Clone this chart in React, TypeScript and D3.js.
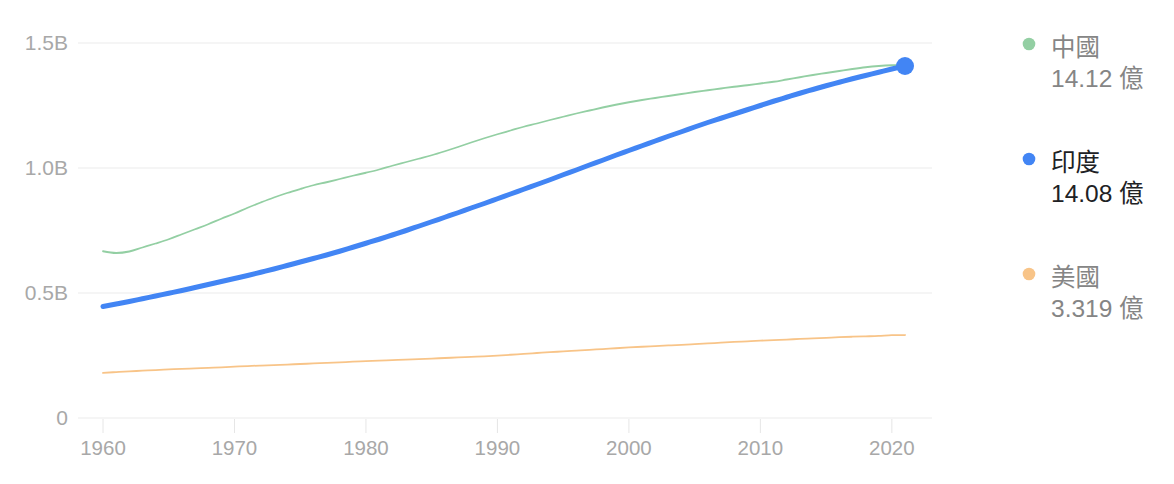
import React from "react";
import * as d3 from "d3";

const years: number[] = d3.range(1960, 2022);

const china: number[] = [
  0.667, 0.660, 0.666, 0.682, 0.698, 0.715, 0.735, 0.755, 0.775, 0.797,
  0.818, 0.841, 0.862, 0.882, 0.900, 0.916, 0.931, 0.943, 0.956, 0.969,
  0.981, 0.994, 1.009, 1.023, 1.037, 1.051, 1.067, 1.084, 1.102, 1.119,
  1.135, 1.150, 1.165, 1.178, 1.192, 1.205, 1.218, 1.230, 1.242, 1.253,
  1.263, 1.272, 1.280, 1.288, 1.296, 1.304, 1.311, 1.318, 1.325, 1.331,
  1.338, 1.345, 1.354, 1.363, 1.372, 1.380, 1.388, 1.396, 1.403, 1.408,
  1.411, 1.412,
];

const india: number[] = [
  0.446, 0.456, 0.466, 0.477, 0.488, 0.499, 0.510, 0.522, 0.534, 0.546,
  0.558, 0.570, 0.583, 0.596, 0.610, 0.624, 0.638, 0.652, 0.667, 0.683,
  0.699, 0.715, 0.732, 0.749, 0.767, 0.785, 0.803, 0.821, 0.840, 0.858,
  0.877, 0.896, 0.915, 0.934, 0.953, 0.973, 0.992, 1.012, 1.031, 1.051,
  1.070, 1.089, 1.108, 1.127, 1.145, 1.164, 1.182, 1.199, 1.216, 1.233,
  1.250, 1.267, 1.283, 1.299, 1.314, 1.329, 1.343, 1.357, 1.370, 1.383,
  1.396, 1.408,
];

const usa: number[] = [
  0.1807, 0.1837, 0.1865, 0.1892, 0.1919, 0.1943, 0.1966, 0.1987, 0.2007, 0.2027,
  0.2052, 0.2079, 0.2099, 0.2119, 0.2139, 0.2160, 0.2181, 0.2202, 0.2226, 0.2251,
  0.2273, 0.2295, 0.2317, 0.2338, 0.2358, 0.2378, 0.2400, 0.2422, 0.2445, 0.2468,
  0.2496, 0.2530, 0.2566, 0.2600, 0.2633, 0.2663, 0.2694, 0.2726, 0.2758, 0.2790,
  0.2822, 0.2850, 0.2876, 0.2901, 0.2928, 0.2955, 0.2984, 0.3012, 0.3041, 0.3068,
  0.3093, 0.3116, 0.3139, 0.3161, 0.3184, 0.3208, 0.3231, 0.3251, 0.3266, 0.3283,
  0.3315, 0.3319,
];

const seriesNames: string[] = ["中國", "印度", "美國"];
const seriesLabels: string[] = ["14.12 億", "14.08 億", "3.319 億"];
const xTicks: number[] = [1960, 1970, 1980, 1990, 2000, 2010, 2020];
const yTicks: number[] = [0, 0.5, 1.0, 1.5];
const yTickLabels: string[] = ["0", "0.5B", "1.0B", "1.5B"];

const W = 1174;
const H = 484;
const FONT = "'Liberation Sans', Arial, Helvetica, 'Noto Sans CJK TC', sans-serif";

export default function App() {
  const x = d3.scaleLinear().domain([1960, 2021]).range([103, 905]);
  const y = d3.scaleLinear().domain([0, 1.5]).range([418, 43]);

  const line = d3
    .line<number>()
    .x((_, i) => x(years[i]))
    .y((d) => y(d))
    .curve(d3.curveMonotoneX);

  const series = [
    { name: seriesNames[0], label: seriesLabels[0], data: china, color: "#93cfa3", width: 1.8, active: false },
    { name: seriesNames[2], label: seriesLabels[2], data: usa, color: "#f8c488", width: 1.8, active: false },
    { name: seriesNames[1], label: seriesLabels[1], data: india, color: "#4285f4", width: 5, active: true },
  ];

  const legendOrder = [series[0], series[2], series[1]];

  const last = india.length - 1;

  return (
    <svg width={W} height={H} style={{ position: "absolute", left: 0, top: 0, background: "#fff" }} fontFamily={FONT}>
      {yTicks.map((t, i) => (
        <g key={"y" + t}>
          <line x1={78} x2={932} y1={y(t)} y2={y(t)} stroke="#ebebeb" strokeWidth={1} />
          <text x={68} y={y(t)} dy="0.35em" textAnchor="end" fontSize={21} fill="#a8a8a8">
            {yTickLabels[i]}
          </text>
        </g>
      ))}
      {xTicks.map((t) => (
        <g key={"x" + t}>
          <line x1={x(t)} x2={x(t)} y1={419} y2={433} stroke="#e6e6e6" strokeWidth={1} />
          <text x={x(t)} y={448} dy="0.35em" textAnchor="middle" fontSize={20.5} fill="#a8a8a8">
            {t}
          </text>
        </g>
      ))}
      {series.map((s) => (
        <path
          key={s.name}
          d={line(s.data) || ""}
          fill="none"
          stroke={s.color}
          strokeWidth={s.width}
          strokeLinecap="round"
          strokeLinejoin="round"
        />
      ))}
      <circle cx={x(years[last])} cy={y(india[last])} r={9} fill="#4285f4" />
      {legendOrder.map((s, i) => {
        const top = 47 + i * 115;
        const color = s.active ? "#202124" : "#858585";
        return (
          <g key={"lg" + s.name}>
            <circle cx={1029} cy={top - 3} r={6.3} fill={s.color} />
            <text x={1051} y={top} dy="0.35em" fontSize={24.5} fill={color}>
              {s.name}
            </text>
            <text x={1051} y={top + 31} dy="0.35em" fontSize={24.5} fill={color}>
              {s.label}
            </text>
          </g>
        );
      })}
    </svg>
  );
}
